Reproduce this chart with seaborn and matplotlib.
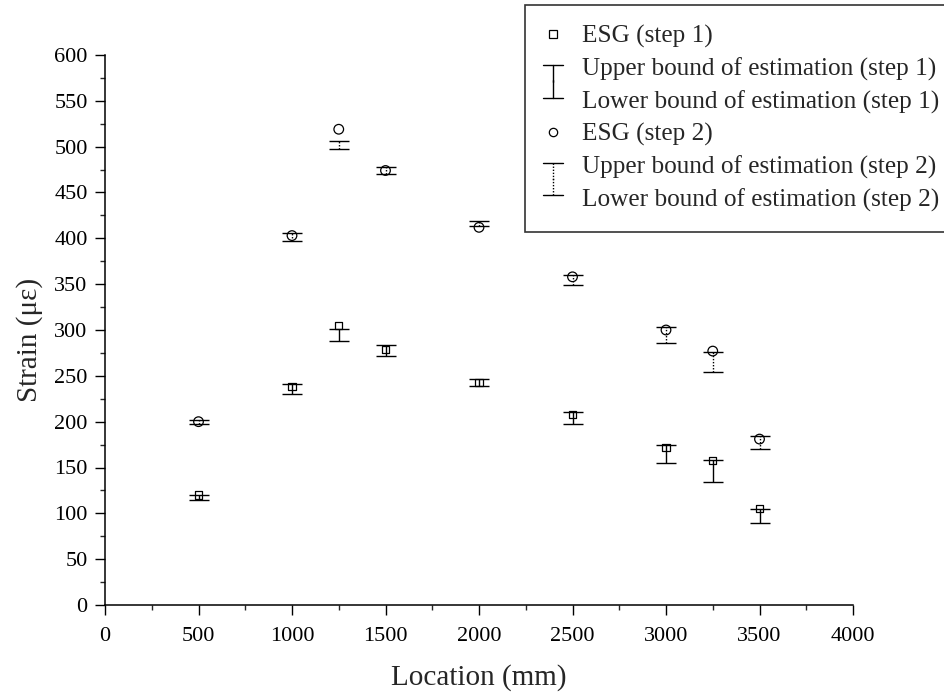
import numpy as np
import pandas as pd
import matplotlib
matplotlib.use("Agg")
import matplotlib.pyplot as plt
import seaborn as sns
from matplotlib.legend_handler import HandlerBase
from matplotlib.lines import Line2D

# ---- data ----
locations = [500, 1000, 1250, 1500, 2000, 2500, 3000, 3250, 3500]

esg_step1 = [120, 238, 305, 279, 243, 208, 172, 158, 105]
upper_step1 = [120, 241, 301, 284, 247, 211, 175, 158, 105]
lower_step1 = [115, 230, 288, 272, 239, 197, 155, 134, 90]

esg_step2 = [200, 403, 519, 474, 412, 358, 300, 277, 181]
upper_step2 = [202, 406, 506, 478, 419, 360, 303, 276, 184]
lower_step2 = [198, 397, 497, 470, 413, 349, 286, 254, 170]

labels = ["ESG (step 1)", "Upper bound of estimation (step 1)",
          "Lower bound of estimation (step 1)", "ESG (step 2)",
          "Upper bound of estimation (step 2)",
          "Lower bound of estimation (step 2)"]

x_ticks = [0, 500, 1000, 1500, 2000, 2500, 3000, 3500, 4000]
y_ticks = [0, 50, 100, 150, 200, 250, 300, 350, 400, 450, 500, 550, 600]

# ---- style ----
sns.set_style("ticks")
plt.rcParams["font.family"] = ["Liberation Serif", "DejaVu Serif"]

fig = plt.figure(figsize=(9.45, 6.94), dpi=100)
ax = fig.add_axes([105 / 945, 1 - 605 / 694, (853 - 105) / 945, (605 - 55) / 694])

df1 = pd.DataFrame({"x": locations, "y": esg_step1})
df2 = pd.DataFrame({"x": locations, "y": esg_step2})

DOT = (0, (1, 1.2))


def draw_bounds(xs, up, lo, ls):
    up = np.asarray(up, float)
    lo = np.asarray(lo, float)
    eb = ax.errorbar(xs, (up + lo) / 2, yerr=(up - lo) / 2, fmt="none",
                     ecolor="black", elinewidth=1.0, capsize=7.3, capthick=1.0,
                     zorder=2)
    for lc in eb.lines[2]:
        lc.set_linestyle(ls)


draw_bounds(locations, upper_step1, lower_step1, "-")
draw_bounds(locations, upper_step2, lower_step2, DOT)

sns.scatterplot(data=df1, x="x", y="y", marker="s", s=27, facecolor="none",
                edgecolor="black", linewidth=0.9, ax=ax, legend=False, zorder=3)
sns.scatterplot(data=df2, x="x", y="y", marker="o", s=48, facecolor="none",
                edgecolor="black", linewidth=0.9, ax=ax, legend=False, zorder=3)

ax.set_xlim(0, 4000)
ax.set_ylim(0, 600)
ax.set_xticks(x_ticks)
ax.set_yticks(y_ticks)
ax.set_xticks(np.arange(250, 4000, 500), minor=True)
ax.set_yticks(np.arange(25, 600, 50), minor=True)
ax.tick_params(axis="both", which="major", direction="out", length=7,
               width=1, labelsize=16, colors="black")
ax.tick_params(axis="y", which="major", pad=5.5)
ax.tick_params(axis="x", which="major", pad=9)
ax.tick_params(axis="both", which="minor", direction="out", length=3.6,
               width=1)
sns.despine(ax=ax)
for s in ["left", "bottom"]:
    ax.spines[s].set_linewidth(1.1)
    ax.spines[s].set_color("black")

ax.set_xlabel("Location (mm)", fontsize=21, labelpad=13)
ax.set_ylabel("Strain (με)", fontsize=21, labelpad=8)
ax.yaxis.label.set_y(0.482)


# ---- legend ----
class BoundHandler(HandlerBase):
    def __init__(self, part, ls, span):
        super().__init__()
        self.part = part
        self.ls = ls
        self.span = span

    def create_artists(self, legend, orig_handle, xdescent, ydescent,
                       width, height, fontsize, trans):
        cx = width / 2 - xdescent
        cy = height / 2 - ydescent + 1.5
        cap = 7.3
        if self.part == "upper":
            y2 = cy - self.span
        else:
            y2 = cy + self.span
        c = Line2D([cx - cap, cx + cap], [cy, cy], color="black", lw=1.0)
        st = Line2D([cx, cx], [cy, y2], color="black", lw=1.0, ls=self.ls)
        for a in (c, st):
            a.set_transform(trans)
        return [c, st]


h_esg1 = Line2D([], [], marker="s", ls="none", markersize=5.2,
                markerfacecolor="none", markeredgecolor="black", mew=0.9)
h_up1 = Line2D([], [])
h_lo1 = Line2D([], [])
h_esg2 = Line2D([], [], marker="o", ls="none", markersize=6,
                markerfacecolor="none", markeredgecolor="black", mew=0.9)
h_up2 = Line2D([], [])
h_lo2 = Line2D([], [])

span = 12.3
hmap = {
    h_up1: BoundHandler("upper", "-", span),
    h_lo1: BoundHandler("lower", "-", span),
    h_up2: BoundHandler("upper", DOT, span),
    h_lo2: BoundHandler("lower", DOT, span),
}

fs_leg = 18.2
leg = fig.legend([h_esg1, h_up1, h_lo1, h_esg2, h_up2, h_lo2], labels,
                 handler_map=hmap, loc="upper left",
                 bbox_to_anchor=(525 / 945, 1 - 5 / 694),
                 bbox_transform=fig.transFigure, borderaxespad=0,
                 fontsize=fs_leg, frameon=True, fancybox=False, shadow=False,
                 labelspacing=0.37, handlelength=0.59, handletextpad=0.88,
                 borderpad=0.8)
fr = leg.get_frame()
fr.set_edgecolor("#333333")
fr.set_linewidth(1.2)
fr.set_facecolor("white")
fr.set_alpha(1)

fig.savefig("out.png", dpi=100)
